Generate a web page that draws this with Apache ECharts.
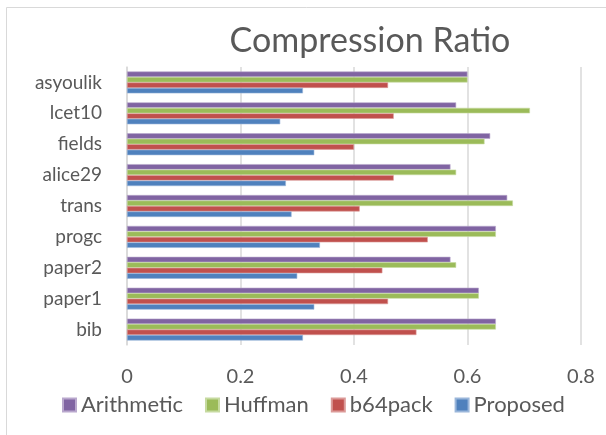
<!DOCTYPE html>
<html>
<head>
<meta charset="utf-8">
<script src="https://cdn.jsdelivr.net/npm/echarts@6/dist/echarts.min.js"></script>
<style>
  html, body { margin: 0; padding: 0; background: #fff; }
  #chart { width: 606px; height: 435px; }
</style>
</head>
<body>
<div id="chart"></div>
<script>
// File names, listed top to bottom
const categories = ['asyoulik', 'lcet10', 'fields', 'alice29', 'trans', 'progc', 'paper2', 'paper1', 'bib'];

// Compression ratio per file for each method
const arithmetic = [0.60, 0.58, 0.64, 0.57, 0.67, 0.65, 0.57, 0.62, 0.65];
const huffman    = [0.60, 0.71, 0.63, 0.58, 0.68, 0.65, 0.58, 0.62, 0.65];
const b64pack    = [0.46, 0.47, 0.40, 0.47, 0.41, 0.53, 0.45, 0.46, 0.51];
const proposed   = [0.31, 0.27, 0.33, 0.28, 0.29, 0.34, 0.30, 0.33, 0.31];

const seriesNames = ['Arithmetic', 'Huffman', 'b64pack', 'Proposed'];
const seriesData = [arithmetic, huffman, b64pack, proposed];
const colors = ['#8064A2', '#9BBB59', '#C0504D', '#4F81BD'];
const edgeColors = ['#B9A8CD', '#C6DAA0', '#DB9A98', '#9AB6DA'];

const FONT = 'Lato';
const TEXT = '#595959';

const chart = echarts.init(document.getElementById('chart'), null, { renderer: 'canvas' });

chart.setOption({
  animation: false,
  backgroundColor: '#fff',
  title: {
    text: 'Compression Ratio',
    left: 365,
    top: 19,
    textAlign: 'center',
    textStyle: { fontFamily: FONT, fontSize: 34, fontWeight: 'normal', color: TEXT }
  },
  legend: {
    data: seriesNames,
    left: 57,
    top: 389,
    itemWidth: 13,
    itemHeight: 13,
    itemGap: 22,
    icon: 'rect',
    textStyle: { fontFamily: FONT, fontSize: 22, color: TEXT }
  },
  grid: { left: 127, right: 25, top: 67, bottom: 90, containLabel: false },
  xAxis: {
    type: 'value',
    min: 0,
    max: 0.8,
    interval: 0.2,
    axisLine: { show: false },
    axisTick: { show: false },
    axisLabel: { fontFamily: FONT, fontSize: 20, color: TEXT, margin: 22 },
    splitLine: { lineStyle: { color: '#D9D9D9', width: 1.5 } }
  },
  yAxis: {
    type: 'category',
    inverse: true,
    data: categories,
    axisLine: { show: true, lineStyle: { color: '#D9D9D9', width: 1.5 } },
    axisTick: { show: false },
    axisLabel: { fontFamily: FONT, fontSize: 19, color: TEXT, margin: 25 }
  },
  graphic: [{
    type: 'rect',
    shape: { x: 6.5, y: 7.5, width: 700, height: 600 },
    style: { fill: 'none', stroke: '#D9D9D9', lineWidth: 1 },
    silent: true
  }],
  series: seriesNames.map((name, i) => ({
    name,
    type: 'bar',
    data: seriesData[i],
    barGap: '0%',
    barCategoryGap: '29%',
    itemStyle: { color: colors[i], borderColor: edgeColors[i], borderWidth: 0.6 }
  }))
});
</script>
</body>
</html>
